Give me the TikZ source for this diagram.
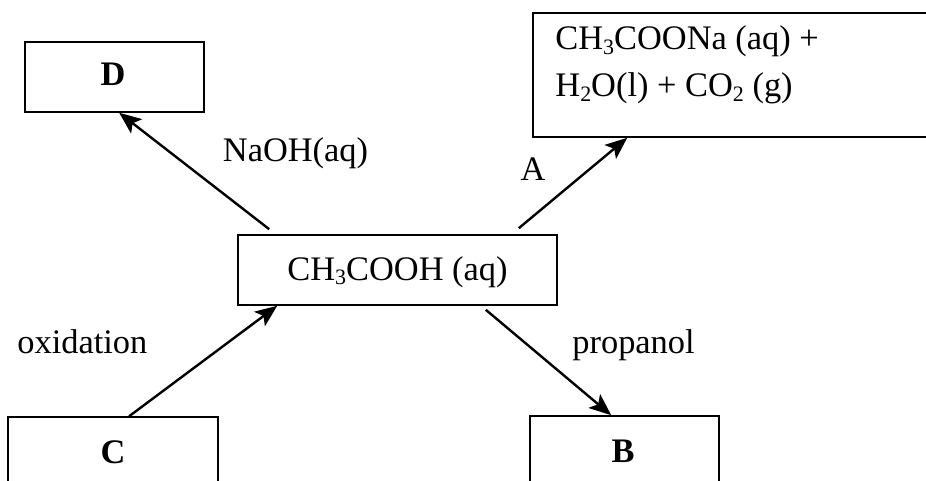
\documentclass[tikz,border=0pt]{standalone}
\usepackage{fontspec}
\setmainfont{Liberation Serif}
\usetikzlibrary{arrows.meta,calc}
\newcommand{\sbs}[1]{\raisebox{-0.12em}{\fontsize{11}{11}\selectfont #1}}
\begin{document}
\begin{tikzpicture}[x=0.5pt,y=-0.5pt,
  box/.style={draw, line width=0.8pt, inner sep=0pt, rectangle},
  arr/.style={line width=1.2pt, -{Stealth[length=11pt,width=9pt,inset=2.5pt]}},
  lbl/.style={font=\fontsize{17.2}{23.5}\selectfont, inner sep=0pt},
  ]
\useasboundingbox (0,0) rectangle (926,481);
\clip (0,0) rectangle (926,481);
% boxes
\node[box, minimum width=89.5pt, minimum height=35pt] (D) at (114.5,77) {};
\node[box, minimum width=213.5pt, minimum height=62pt] (P) at (746.5,75) {};
\node[box, minimum width=159.5pt, minimum height=35pt] (mid) at (397.5,270) {};
\node[box, minimum width=105pt, minimum height=61.5pt] (C) at (113,478.5) {};
\node[box, minimum width=94.5pt, minimum height=62pt] (B) at (624.5,478) {};
% box texts
\node[lbl, anchor=base, font=\fontsize{17.2}{23.5}\selectfont\bfseries] (Dt) at (113,86) {D};
\node[lbl, anchor=base, font=\fontsize{17.2}{23.5}\selectfont\bfseries] (Ct) at (113,463) {C};
\node[lbl, anchor=base, font=\fontsize{17.2}{23.5}\selectfont\bfseries] (Bt) at (623,462) {B};
\node[lbl, anchor=base west] (midt) at (287,280) {CH\sbs{3}COOH (aq)};
\node[lbl, anchor=base west] (Pt1) at (555,50) {CH\sbs{3}COONa (aq) +};
\node[lbl, anchor=base west] (Pt2) at (555,97) {H\sbs{2}O(l) + CO\sbs{2} (g)};
% arrow labels
\node[lbl, anchor=base] (naoh) at (295.5,162) {NaOH(aq)};
\node[lbl, anchor=base] (lA) at (533,180) {A};
\node[lbl, anchor=base west] (ox) at (17,353) {oxidation};
\node[lbl, anchor=base west] (prop) at (572,353) {propanol};
% arrows
\draw[arr] ($(mid.north west)+(32,-5)$) -- ($(D.south west)+(95,0)$);
\draw[arr] ($(mid.north east)+(-39,-6)$) -- ($(P.south west)+(95,0)$);
\draw[arr] ($(C.north west)+(122,0)$) -- ($(mid.south west)+(40,0)$);
\draw[arr] ($(mid.south east)+(-72,4)$) -- ($(B.north west)+(82,0)$);
\end{tikzpicture}
\end{document}
